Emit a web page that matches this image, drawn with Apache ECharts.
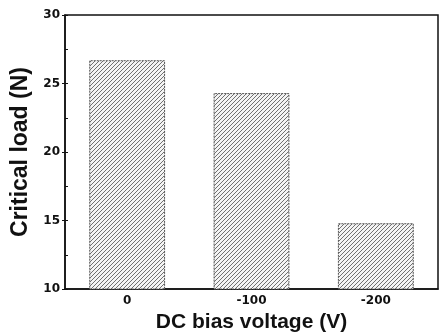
<!DOCTYPE html>
<html><head><meta charset="utf-8">
<script src="https://cdn.jsdelivr.net/npm/echarts@6/dist/echarts.min.js"></script>
<style>html,body{margin:0;padding:0;background:#fff}#c{width:444px;height:334px}</style>
</head><body><div id="c"></div>
<script>
const categories = ['0', '-100', '-200'];
const criticalLoad = [26.7, 24.3, 14.8];
const yTicks = [10, 15, 20, 25, 30];

const tile = document.createElement('canvas');
tile.width = 4; tile.height = 4;
const g = tile.getContext('2d');
g.fillStyle = '#f4f4f4'; g.fillRect(0, 0, 4, 4);
g.strokeStyle = '#707070'; g.lineWidth = 1;
g.beginPath();
g.moveTo(-1, 5); g.lineTo(5, -1);
g.moveTo(-1, 1); g.lineTo(1, -1);
g.moveTo(3, 5); g.lineTo(5, 3);
g.stroke();

const titleFont = 'Liberation Sans, Arial, sans-serif';
const tickFont = 'DejaVu Sans, sans-serif';
const chart = echarts.init(document.getElementById('c'));
chart.setOption({
  animation: false,
  grid: { left: 65, right: 6, top: 15, bottom: 45, outerBoundsMode: 'none', containLabel: false,
          show: true, borderColor: '#111', borderWidth: 1.5, backgroundColor: 'transparent' },
  xAxis: [{
    type: 'category', data: categories,
    name: 'DC bias voltage (V)', nameLocation: 'middle', nameGap: 20,
    nameTextStyle: { fontFamily: titleFont, fontWeight: 'bold', fontSize: 21, color: '#111' },
    axisLine: { lineStyle: { color: '#111', width: 1.5 } },
    axisTick: { inside: true, length: 3, lineStyle: { color: '#111' } },
    axisLabel: { fontFamily: tickFont, fontWeight: 'bold', fontSize: 12, color: '#111', margin: 6 }
  }, {
    type: 'category', data: categories, position: 'bottom',
    axisLine: { show: false },
    axisTick: { inside: true, alignWithLabel: true, length: 3, lineStyle: { color: '#111' } },
    axisLabel: { show: false }
  }],
  yAxis: [{
    type: 'value', min: yTicks[0], max: yTicks[yTicks.length - 1], interval: 5,
    name: 'Critical load (N)', nameLocation: 'middle', nameGap: 31,
    nameTextStyle: { fontFamily: titleFont, fontWeight: 'bold', fontSize: 23, color: '#111' },
    axisLine: { show: true, lineStyle: { color: '#111', width: 1.5 } },
    axisTick: { show: true, inside: false, length: 3, lineStyle: { color: '#111' } },
    axisLabel: { fontFamily: tickFont, fontWeight: 'bold', fontSize: 12, color: '#111', margin: 5 },
    splitLine: { show: false }
  }, {
    type: 'value', min: 10, max: 30, interval: 2.5, position: 'left',
    axisLine: { show: false },
    axisTick: { show: true, inside: true, length: 3, lineStyle: { color: '#111' } },
    axisLabel: { show: false }, splitLine: { show: false }
  }],
  series: [{
    type: 'bar', data: criticalLoad, barWidth: '61%',
    itemStyle: { color: { image: tile, repeat: 'repeat' }, borderColor: '#555', borderWidth: 1, borderType: [2, 1] }
  }]
});
</script></body></html>
